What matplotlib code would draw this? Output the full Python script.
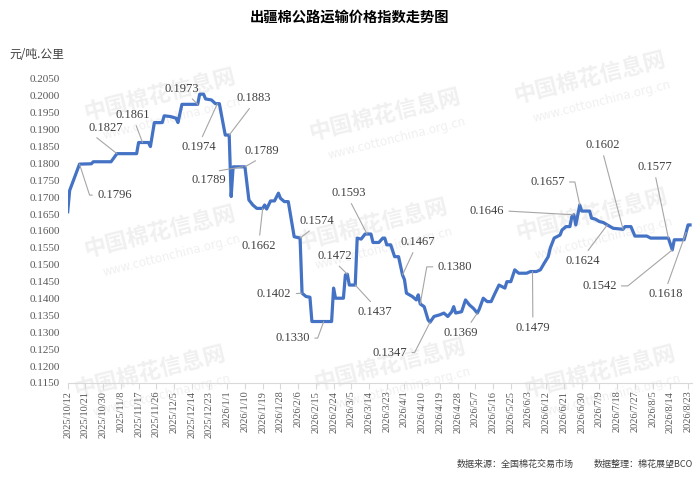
import matplotlib
matplotlib.use("Agg")
import matplotlib.pyplot as plt
import matplotlib.dates as mdates
import numpy as np
import pandas as pd

# ---------------- data ----------------
dates = [
    "2025-10-12", "2025-10-13", "2025-10-18", "2025-10-24", "2025-10-25", "2025-11-03",
    "2025-11-06", "2025-11-16", "2025-11-17", "2025-11-22", "2025-11-23", "2025-11-25",
    "2025-11-29", "2025-11-30", "2025-12-03", "2025-12-06", "2025-12-07", "2025-12-09",
    "2025-12-17", "2025-12-18", "2025-12-20", "2025-12-21", "2025-12-24", "2025-12-26",
    "2025-12-28", "2025-12-31", "2026-01-02", "2026-01-03", "2026-01-04", "2026-01-10",
    "2026-01-12", "2026-01-14", "2026-01-16", "2026-01-19", "2026-01-20", "2026-01-21",
    "2026-01-23", "2026-01-25", "2026-01-27", "2026-01-28", "2026-01-30", "2026-02-01",
    "2026-02-04", "2026-02-07", "2026-02-08", "2026-02-10", "2026-02-12", "2026-02-13",
    "2026-02-23", "2026-02-24", "2026-02-25", "2026-03-01", "2026-03-02", "2026-03-03",
    "2026-03-04", "2026-03-07", "2026-03-08", "2026-03-10", "2026-03-12", "2026-03-15",
    "2026-03-16", "2026-03-19", "2026-03-21", "2026-03-22", "2026-03-23", "2026-03-25",
    "2026-03-27", "2026-03-29", "2026-03-31", "2026-04-01", "2026-04-02", "2026-04-05",
    "2026-04-07", "2026-04-08", "2026-04-09", "2026-04-11", "2026-04-13", "2026-04-14",
    "2026-04-16", "2026-04-19", "2026-04-21", "2026-04-23", "2026-04-25", "2026-04-26",
    "2026-04-27", "2026-04-30", "2026-05-02", "2026-05-04", "2026-05-06", "2026-05-08",
    "2026-05-09", "2026-05-11", "2026-05-13", "2026-05-15", "2026-05-17", "2026-05-19",
    "2026-05-22", "2026-05-23", "2026-05-25", "2026-05-27", "2026-05-29", "2026-06-02",
    "2026-06-04", "2026-06-07", "2026-06-09", "2026-06-11", "2026-06-13", "2026-06-14",
    "2026-06-16", "2026-06-19", "2026-06-20", "2026-06-22", "2026-06-24", "2026-06-25",
    "2026-06-26", "2026-06-27", "2026-06-29", "2026-06-30", "2026-07-04", "2026-07-05",
    "2026-07-07", "2026-07-09", "2026-07-11", "2026-07-13", "2026-07-16", "2026-07-21",
    "2026-07-22", "2026-07-25", "2026-07-27", "2026-08-02", "2026-08-04", "2026-08-13",
    "2026-08-15", "2026-08-16", "2026-08-21", "2026-08-23", "2026-08-24",
]
values = [
    0.1657, 0.1720, 0.1798, 0.1799, 0.1805, 0.1805,
    0.1829, 0.1829, 0.1862, 0.1862, 0.1850, 0.1921,
    0.1921, 0.1941, 0.1939, 0.1934, 0.1921, 0.1975,
    0.1975, 0.2005, 0.2005, 0.1991, 0.1988, 0.1977,
    0.1977, 0.1884, 0.1884, 0.1702, 0.1790, 0.1790,
    0.1692, 0.1677, 0.1667, 0.1667, 0.1677, 0.1665,
    0.1689, 0.1689, 0.1712, 0.1697, 0.1687, 0.1687,
    0.1583, 0.1579, 0.1416, 0.1406, 0.1404, 0.1332,
    0.1332, 0.1431, 0.1401, 0.1401, 0.1470, 0.1472,
    0.1440, 0.1440, 0.1579, 0.1576, 0.1591, 0.1591,
    0.1566, 0.1566, 0.1579, 0.1579, 0.1559, 0.1559,
    0.1524, 0.1524, 0.1470, 0.1456, 0.1416, 0.1406,
    0.1396, 0.1411, 0.1384, 0.1376, 0.1337, 0.1330,
    0.1347, 0.1352, 0.1357, 0.1347, 0.1361, 0.1376,
    0.1357, 0.1361, 0.1396, 0.1381, 0.1371, 0.1357,
    0.1369, 0.1401, 0.1391, 0.1391, 0.1416, 0.1440,
    0.1431, 0.1450, 0.1450, 0.1485, 0.1475, 0.1475,
    0.1480, 0.1480, 0.1485, 0.1505, 0.1524, 0.1549,
    0.1579, 0.1588, 0.1603, 0.1613, 0.1613, 0.1643,
    0.1648, 0.1618, 0.1677, 0.1659, 0.1659, 0.1638,
    0.1635, 0.1628, 0.1625, 0.1618, 0.1608, 0.1605,
    0.1613, 0.1613, 0.1585, 0.1585, 0.1579, 0.1579,
    0.1544, 0.1574, 0.1574, 0.1618, 0.1618,
]

# annotations: date, label text
ann_dates = ["2025-10-18", "2025-11-06", "2025-11-19", "2025-12-17", "2025-12-27",
             "2026-01-02", "2026-01-10", "2026-01-09", "2026-01-19", "2026-02-07",
             "2026-02-08", "2026-02-19", "2026-03-03", "2026-03-07", "2026-03-13",
             "2026-03-31", "2026-04-09", "2026-04-14", "2026-05-08", "2026-06-05",
             "2026-06-26", "2026-06-29", "2026-07-13", "2026-07-21", "2026-08-13",
             "2026-08-15", "2026-08-22"]
ann_labels = ["0.1796", "0.1827", "0.1861", "0.1973", "0.1974",
              "0.1883", "0.1789", "0.1789", "0.1662", "0.1574",
              "0.1402", "0.1330", "0.1472", "0.1437", "0.1593",
              "0.1467", "0.1380", "0.1347", "0.1369", "0.1479",
              "0.1646", "0.1657", "0.1624", "0.1602", "0.1577",
              "0.1542", "0.1618"]
# label layout: offset in pixels (right, down), leader attach point on text box,
# and optional elbow angle (degrees) of the leader's last leg at the point
ann_layout = [
    (35, 31, (0, 0.5), -72), (-11.5, -26, (0.1, 0), None), (-9.5, -27.5, (0.54, 0), None),
    (-15.5, -15.7, (0.67, 0), None), (-18.2, 43.7, (0.53, 1), None), (25, -37, (0.46, 0), None),
    (17.2, -15.9, (0.5, 0), None), (-34, 13, (0.25, 1), None), (-3.5, 37.6, (0.5, 1), None),
    (17, -17.2, (0.43, 0), None), (-27.9, 0.7, (1, 0.5), None), (-31, 16.6, (1, 0.5), 70),
    (-12.4, -18.3, (0.5, 0), None), (19.2, 26.9, (0.5, 1), None), (-18.1, -41.1, (0.5, 0), None),
    (15.4, -33, (0.42, 0), None), (34.7, -37.1, (0, 0.5), 80), (-40.2, 30.4, (1, 0.5), -117),
    (-17, 19.8, (0.72, 1), None), (0.4, 56.4, (0.5, 1), None), (-87, -3.9, (1, 0.5), None),
    (-32.4, -23, (1, 0.5), 102), (-25, 36, (0.57, 1), None), (-20.7, -84.4, (0.5, 0), None),
    (-13.6, -71.2, (0.5, 0), None), (-73, 36, (1, 0.5), -141), (-20, 62, (0.5, 1), None),
]

xtick_labels = [
    "2025/10/12", "2025/10/21", "2025/10/30", "2025/11/8", "2025/11/17", "2025/11/26",
    "2025/12/5", "2025/12/14", "2025/12/23", "2026/1/1", "2026/1/10", "2026/1/19",
    "2026/1/28", "2026/2/6", "2026/2/15", "2026/2/24", "2026/3/5", "2026/3/14",
    "2026/3/23", "2026/4/1", "2026/4/10", "2026/4/19", "2026/4/28", "2026/5/7",
    "2026/5/16", "2026/5/25", "2026/6/3", "2026/6/12", "2026/6/21", "2026/6/30",
    "2026/7/9", "2026/7/18", "2026/7/27", "2026/8/5", "2026/8/14", "2026/8/23",
]
ytick_values = [0.1150, 0.1200, 0.1250, 0.1300, 0.1350, 0.1400, 0.1450, 0.1500,
                0.1550, 0.1600, 0.1650, 0.1700, 0.1750, 0.1800, 0.1850, 0.1900,
                0.1950, 0.2000, 0.2050]

title = "出疆棉公路运输价格指数走势图"
unit = "元/吨.公里"
source = "数据来源：全国棉花交易市场"
editor = "数据整理：棉花展望BCO"

# ---------------- plot ----------------
CJK = ["Noto Sans CJK SC", "DejaVu Sans"]
SERIF = ["Liberation Serif", "DejaVu Serif"]
plt.rcParams["font.family"] = CJK

W, H = 700, 480
fig = plt.figure(figsize=(W / 100, H / 100), dpi=100)
ax = fig.add_axes([67.7 / W, 1 - 383 / H, (692 - 67.7) / W, (383 - 79) / H])
ax.set_facecolor("none")
ax.set_zorder(2)

# watermarks (figure-level, very light, behind the axes)
wm_pos = [(160, 95), (385, 115), (590, 78), (160, 232), (372, 225), (592, 215),
          (150, 372), (390, 365), (600, 372)]
for (px, py) in wm_pos:
    fig.text(px / W, 1 - py / H, "中国棉花信息网", fontsize=16, fontweight="bold",
             color="#f0f0f0", rotation=14, ha="center", va="center", zorder=-1,
             family=CJK)
    fig.text((px + 12) / W, 1 - (py + 24) / H, "www.cottonchina.org.cn", fontsize=8.5,
             color="#f0f0f0", rotation=14, ha="center", va="center", zorder=-1,
             family=["DejaVu Sans"])

x = pd.to_datetime(dates)
ax.plot(x, values, color="#4472C4", lw=2.3, solid_joinstyle="round", zorder=3)

x0 = pd.Timestamp("2025-10-12")
x1 = pd.Timestamp("2026-08-25")
ax.set_xlim(x0, x1)
ax.set_ylim(ytick_values[0], ytick_values[-1])

xt = pd.to_datetime(xtick_labels, format="%Y/%m/%d")
ax.set_xticks(xt)
ax.set_xticklabels(xtick_labels, rotation=90, fontsize=7.5, family=SERIF, color="#595959")
ax.set_yticks(ytick_values)
ax.set_yticklabels([f"{v:.4f}" for v in ytick_values], fontsize=8, family=SERIF,
                   color="#595959")
ax.tick_params(axis="y", length=0, pad=5.5)
ax.tick_params(axis="x", length=4, width=0.8, color="#d9d9d9", pad=1.5)
for s in ["top", "right", "left"]:
    ax.spines[s].set_visible(False)
ax.spines["bottom"].set_color("#d9d9d9")
ax.spines["bottom"].set_linewidth(0.8)

# annotations
xnum = mdates.date2num(x)
for d, lab, (dx, dy, rp, ang) in zip(ann_dates, ann_labels, ann_layout):
    xd = mdates.date2num(pd.Timestamp(d))
    yv = float(np.interp(xd, xnum, values))
    if ang is None:
        cs = "arc3,rad=0"
    else:
        cs = f"angle,angleA=0,angleB={ang},rad=0"
    ax.annotate(lab, xy=(xd, yv), xytext=(dx * 0.72, -dy * 0.72),
                textcoords="offset points", ha="center", va="center",
                fontsize=9, family=SERIF, color="#404040", zorder=4,
                arrowprops=dict(arrowstyle="-", color="#a6a6a6", lw=0.8,
                                shrinkA=1.5, shrinkB=0, relpos=rp,
                                connectionstyle=cs))

fig.text(350 / W, 1 - 18 / H, title, fontsize=10.3, fontweight="bold",
         ha="center", va="center", color="#000000", family=CJK)
fig.text(9 / W, 1 - 54 / H, unit, fontsize=8.5, ha="left", va="center",
         color="#404040", family=CJK)
fig.text(457 / W, 1 - 464 / H, source, fontsize=6.5, ha="left", va="center",
         color="#404040", family=CJK)
fig.text(693 / W, 1 - 464 / H, editor, fontsize=6.5, ha="right", va="center",
         color="#404040", family=CJK)

fig.savefig("out.png", dpi=100)
